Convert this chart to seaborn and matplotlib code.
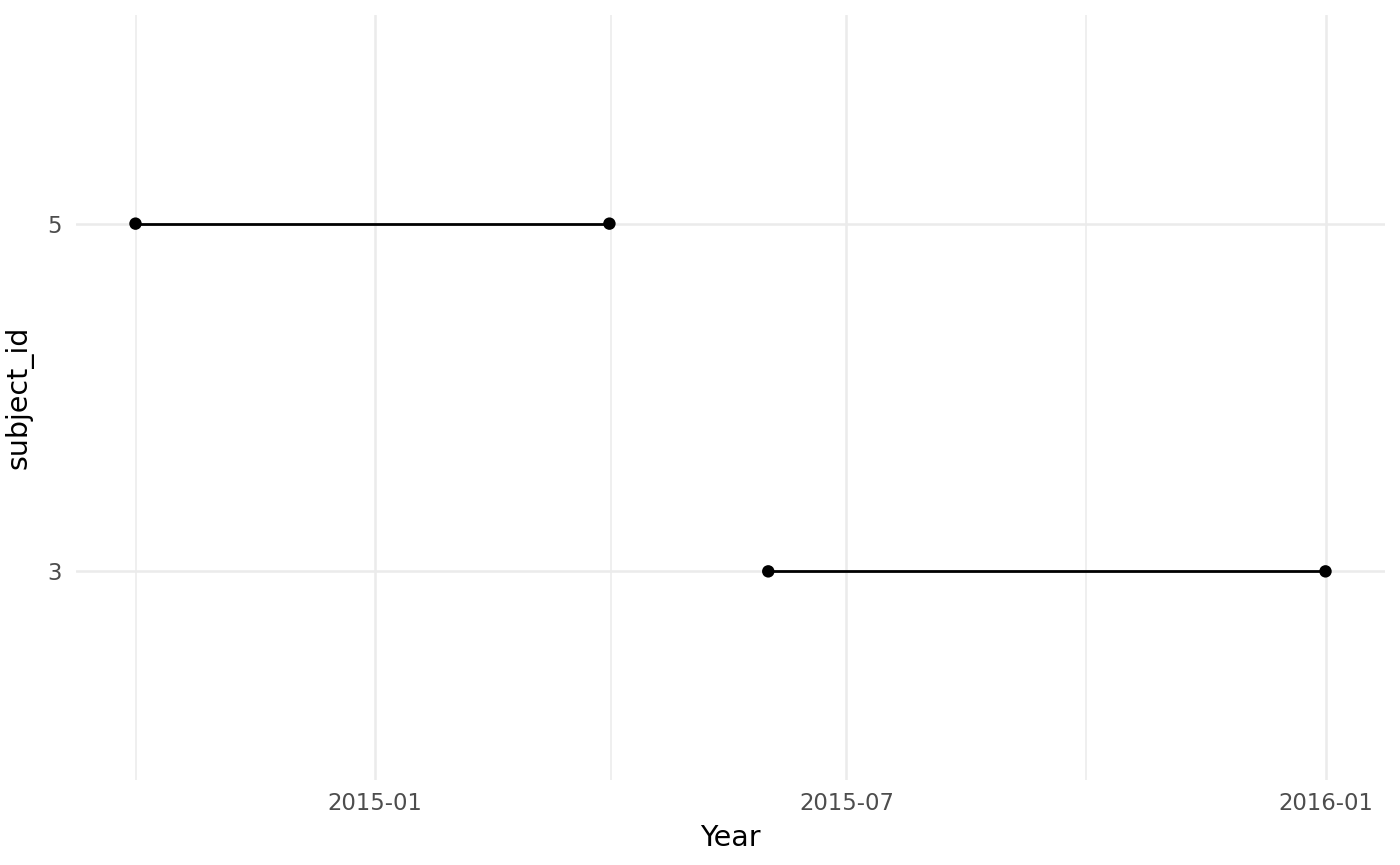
import matplotlib

matplotlib.use("Agg")

import matplotlib.dates as mdates
import matplotlib.pyplot as plt
import pandas as pd
import seaborn as sns

subject_ids = ["5", "5", "3", "3"]
visit_dates = ["2014-10-01", "2015-04-01", "2015-06-01", "2016-01-01"]
subject_levels = ["3", "5"]
major_breaks = ["2014-07-01", "2015-01-01", "2015-07-01", "2016-01-01"]
major_labels = ["2015-01", "2015-07", "2016-01"]

frame = pd.DataFrame({"subject_id": subject_ids, "date": pd.to_datetime(visit_dates)})
frame["ypos"] = frame["subject_id"].map({s: i for i, s in enumerate(subject_levels)})
frame["x"] = mdates.date2num(frame["date"])

sns.set_theme(style="white")
plt.rcParams["font.family"] = ["DejaVu Sans"]

fig = plt.figure(figsize=(14, 8.65), dpi=100)
ax = fig.add_axes([76 / 1400, 85 / 865, 1309 / 1400, 765 / 865])

# grid first (ggplot theme_minimal look)
breaks = mdates.date2num(pd.to_datetime(major_breaks))
minor = (breaks[:-1] + breaks[1:]) / 2
for m in minor:
    ax.axvline(m, color="#EBEBEB", lw=1.1, zorder=0)
for b in breaks[1:]:
    ax.axvline(b, color="#EBEBEB", lw=1.8, zorder=0)
for i in range(len(subject_levels)):
    ax.axhline(i, color="#EBEBEB", lw=1.8, zorder=0)

sns.lineplot(data=frame, x="x", y="ypos", units="subject_id", estimator=None,
             color="black", lw=2.0, ax=ax, legend=False, zorder=2)
sns.scatterplot(data=frame, x="x", y="ypos", color="black", s=80,
                edgecolor="none", ax=ax, legend=False, zorder=3)

xmin, xmax = frame["x"].min(), frame["x"].max()
pad = (xmax - xmin) * 0.05
ax.set_xlim(xmin - pad, xmax + pad)
ax.set_ylim(-0.6, len(subject_levels) - 0.4)

ax.set_xticks(breaks[1:])
ax.set_xticklabels(major_labels)
ax.set_yticks(range(len(subject_levels)))
ax.set_yticklabels(subject_levels)
ax.tick_params(axis="both", length=0, labelsize=16.4, labelcolor="#4D4D4D")
ax.tick_params(axis="x", pad=9)
ax.tick_params(axis="y", pad=10)

ax.set_xlabel("Year", fontsize=20.5, labelpad=6, color="black")
ax.set_ylabel("subject_id", fontsize=20.5, labelpad=10, color="black")
for spine in ax.spines.values():
    spine.set_visible(False)

fig.savefig("out.png", dpi=100)
plt.close(fig)
